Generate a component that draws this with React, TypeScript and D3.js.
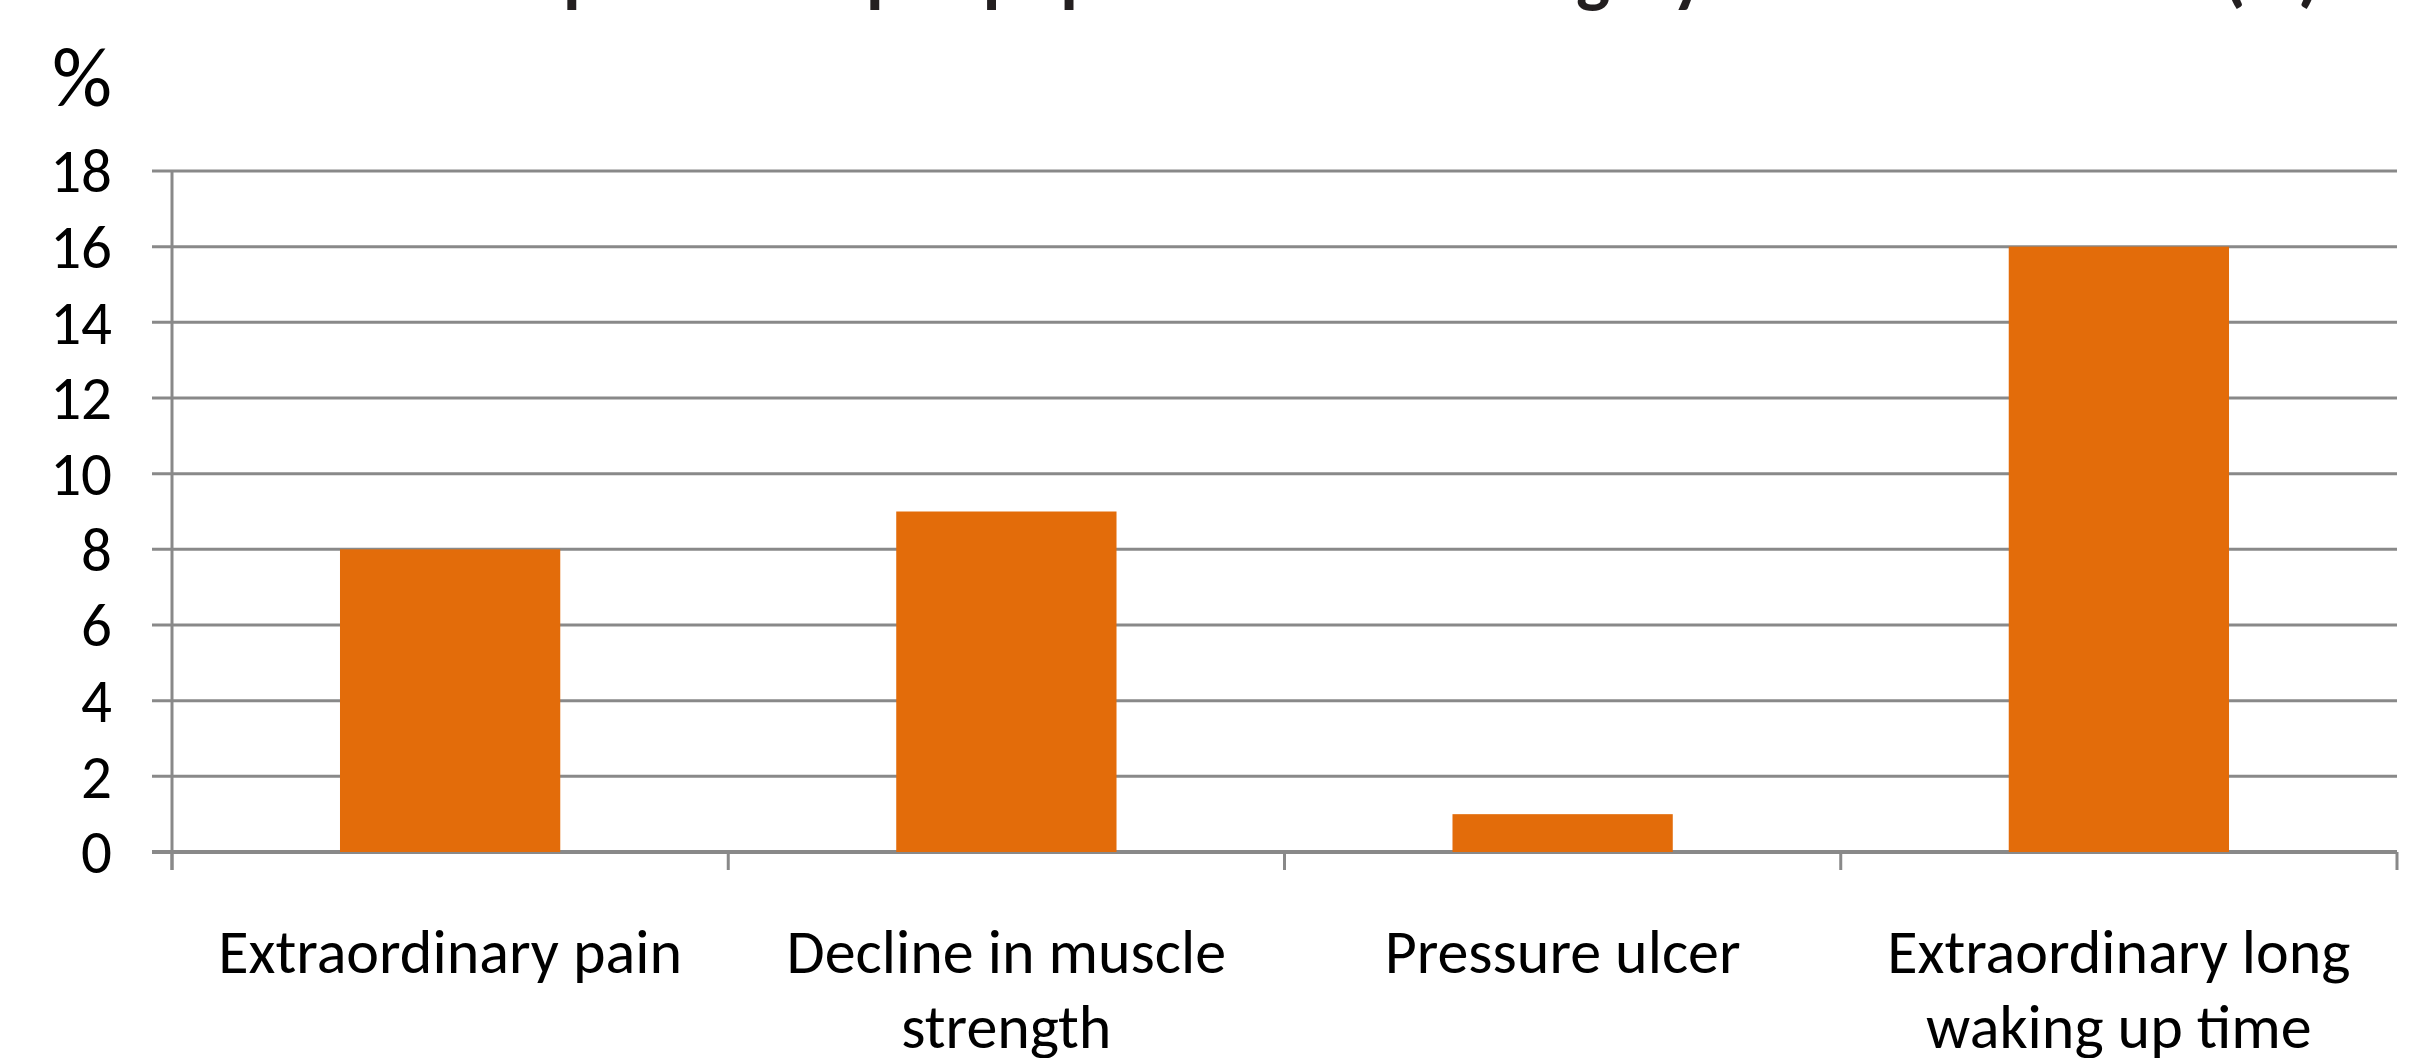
import * as d3 from "d3";

const W = 2433;
const H = 1058;

const categoryLines: string[][] = [
  ["Extraordinary pain"],
  ["Decline in muscle", "strength"],
  ["Pressure ulcer"],
  ["Extraordinary long", "waking up time"],
];
const categories = categoryLines.map((l) => l.join(" "));
const values = [8, 9, 1, 16];
const yTicks = [0, 2, 4, 6, 8, 10, 12, 14, 16, 18];

const titleText = "Complications per population after surgery and anaesthesia (%)";
const unitLabel = "%";

const FONT = "Carlito, Calibri, 'Open Sans', sans-serif";
const GRID = "#898989";
const BAR = "#E36C0A";

export default function App() {
  const left = 172;
  const right = 2397;
  const top = 171;
  const bottom = 852;

  const x = d3
    .scaleBand<string>()
    .domain(categories)
    .range([left, right])
    .paddingInner(0.604)
    .paddingOuter(0.302);

  const y = d3.scaleLinear().domain([0, 18]).range([bottom, top]);

  // band boundaries for the category tick marks
  const step = x.step();
  const bounds = d3.range(categories.length + 1).map((i) => left + i * step);

  return (
    <svg
      width={W}
      height={H}
      style={{ position: "absolute", left: 0, top: 0, background: "#fff" }}
      fontFamily={FONT}
    >
      {/* title sits mostly above the frame, only descenders peek in */}
      <text
        x={1374}
        y={-2}
        textAnchor="middle"
        fontSize={72}
        fontWeight={700}
        fill="#231f20"
      >
        {titleText}
      </text>

      <text x={112} y={106} textAnchor="end" fontSize={84} fill="#000">
        {unitLabel}
      </text>

      {/* gridlines */}
      {yTicks.map((t) => (
        <line
          key={t}
          x1={left - 20}
          x2={right}
          y1={y(t)}
          y2={y(t)}
          stroke={GRID}
          strokeWidth={t === 0 ? 4 : 3}
        />
      ))}

      {/* y tick labels */}
      {yTicks.map((t) => (
        <text
          key={"l" + t}
          x={112}
          y={y(t)}
          dy="0.35em"
          textAnchor="end"
          fontSize={61}
          fill="#000"
        >
          {t}
        </text>
      ))}

      {/* bars */}
      {categories.map((c, i) => (
        <rect
          key={c}
          x={x(c)}
          y={y(values[i])}
          width={x.bandwidth()}
          height={y(0) - y(values[i])}
          fill={BAR}
        />
      ))}

      {/* y axis */}
      <line x1={left} x2={left} y1={top} y2={bottom + 18} stroke={GRID} strokeWidth={3} />

      {/* category ticks */}
      {bounds.map((b, i) => (
        <line key={"b" + i} x1={b} x2={b} y1={bottom} y2={bottom + 18} stroke={GRID} strokeWidth={3} />
      ))}

      {/* category labels */}
      {categoryLines.map((lines, i) => {
        const cx = (x(categories[i]) as number) + x.bandwidth() / 2;
        return (
          <text key={"c" + i} x={cx} y={973} textAnchor="middle" fontSize={62} fill="#000">
            {lines.map((ln, j) => (
              <tspan key={j} x={cx} dy={j === 0 ? 0 : 75}>
                {ln}
              </tspan>
            ))}
          </text>
        );
      })}
    </svg>
  );
}
